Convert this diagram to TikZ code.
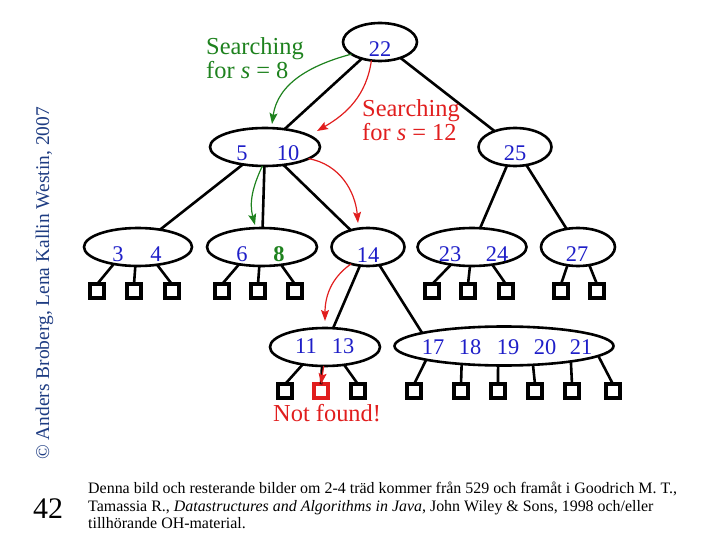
\documentclass[tikz,border=0pt]{standalone}
\usepackage{fontspec}
\setmainfont{Liberation Serif}
\usetikzlibrary{shapes.geometric,arrows.meta}
\definecolor{numblue}{RGB}{30,30,200}
\definecolor{sgreen}{RGB}{30,130,30}
\definecolor{sred}{RGB}{225,30,30}
\definecolor{cblue}{RGB}{30,60,130}
\begin{document}
\begin{tikzpicture}[x=1bp,y=1bp,
  ell/.style={ellipse,draw,line width=2.6bp,fill=white,inner sep=0pt,outer sep=0pt,minimum height=38bp},
  num/.style={text=numblue,font=\fontsize{22.5}{24}\selectfont,inner sep=0pt},
  leaf/.style={rectangle,draw,line width=3.6bp,fill=white,minimum size=13.5bp,inner sep=0pt,outer sep=0pt},
  edge/.style={line width=2.6bp},
  lbl/.style={font=\fontsize{24.5}{24}\selectfont,inner sep=0pt,align=left},
  garrow/.style={draw=sgreen,line width=1.2bp,-{Stealth[length=11bp,width=8bp,inset=2bp,fill=sgreen]}},
  rarrow/.style={draw=sred,line width=1.2bp,-{Stealth[length=11bp,width=8bp,inset=2bp,fill=sred]}}]
\useasboundingbox (0,0) rectangle (720,-540);
% ellipses
\node[ell,minimum width=74bp] (n22) at (380,-42) {};
\node[ell,minimum width=110bp] (n510) at (265,-147) {};
\node[ell,minimum width=73bp] (n25) at (515,-147) {};
\node[ell,minimum width=108bp] (n34) at (138,-247) {};
\node[ell,minimum width=110bp] (n68) at (262,-247) {};
\node[ell,minimum width=73bp] (n14) at (368,-247) {};
\node[ell,minimum width=109bp] (n2324) at (472,-247) {};
\node[ell,minimum width=74bp] (n27) at (578,-247) {};
\node[ell,minimum width=110bp] (n1113) at (325,-347) {};
\node[ell,minimum width=219bp,minimum height=39bp] (nbig) at (504,-346) {};
% numbers
\node[num] (t22) at (380,-49) {22};
\node[num] (t5) at (242,-153) {5};
\node[num] (t10) at (288,-153) {10};
\node[num] (t25) at (515,-153) {25};
\node[num] (t3) at (118,-254) {3};
\node[num] (t4) at (156,-254) {4};
\node[num] (t6) at (242,-254) {6};
\node[num,text=sgreen] (t8) at (279,-254) {\textbf{8}};
\node[num] (t14) at (368,-255) {14};
\node[num] (t23) at (450,-254) {23};
\node[num] (t24) at (497,-254) {24};
\node[num] (t27) at (577,-254) {27};
\node[num] (t11) at (306,-346) {11};
\node[num] (t13) at (343,-346) {13};
\node[num] (t17) at (433,-347) {17};
\node[num] (t18) at (470,-347) {18};
\node[num] (t19) at (508,-347) {19};
\node[num] (t20) at (545,-347) {20};
\node[num] (t21) at (581,-347) {21};
% leaves
\node[leaf] (a1) at (97,-291) {};
\node[leaf] (a2) at (134,-291) {};
\node[leaf] (a3) at (172,-291) {};
\node[leaf] (b1) at (222,-291) {};
\node[leaf] (b2) at (258,-291) {};
\node[leaf] (b3) at (295,-291) {};
\node[leaf] (c1) at (432,-291) {};
\node[leaf] (c2) at (468,-291) {};
\node[leaf] (c3) at (506,-291) {};
\node[leaf] (d1) at (561,-291) {};
\node[leaf] (d2) at (597,-291) {};
\node[leaf] (e1) at (285,-391) {};
\node[leaf,draw=sred] (e2) at (321,-391) {};
\node[leaf] (e3) at (358,-391) {};
\node[leaf] (f1) at (414,-391) {};
\node[leaf] (f2) at (461,-391) {};
\node[leaf] (f3) at (498,-391) {};
\node[leaf] (f4) at (535,-391) {};
\node[leaf] (f5) at (572,-391) {};
\node[leaf] (f6) at (613,-391) {};
% tree edges
\draw[edge] (n22) -- (n510);
\draw[edge] (n22) -- (n25);
\draw[edge] (n510) -- (n34);
\draw[edge] (n510) -- (n68);
\draw[edge] (n510) -- (n14);
\draw[edge] (n25) -- (n2324);
\draw[edge] (n25) -- (n27);
\draw[edge] (n14) -- (n1113);
\draw[edge] (n14) -- (nbig.171);
% leaf edges
\draw[edge] (a1.north) -- (n34.215);
\draw[edge] (a2.north) -- (n34.262);
\draw[edge] (a3.north) -- (n34.317);
\draw[edge] (b1.north) -- (n68.217);
\draw[edge] (b2.north) -- (n68.262);
\draw[edge] (b3.north) -- (n68.317);
\draw[edge] (c1.north) -- (n2324.220);
\draw[edge] (c2.north) -- (n2324.264);
\draw[edge] (c3.north) -- (n2324.319);
\draw[edge] (d1.north) -- (n27.240);
\draw[edge] (d2.north) -- (n27.302);
\draw[edge] (e1.north) -- (n1113.218);
\draw[edge] (e2.north) -- (n1113.261);
\draw[edge] (e3.north) -- (n1113.317);
\draw[edge] (f1.north) -- (nbig.190);
\draw[edge] (f2.north) -- (nbig.203);
\draw[edge] (f3.north) -- (nbig.253);
\draw[edge] (f4.north) -- (nbig.327);
\draw[edge] (f5.north) -- (nbig.347);
\draw[edge] (f6.north) -- (nbig.354);
% search arrows
\coordinate (g1tip) at (272,-124);
\coordinate (r1tip) at (317,-131);
\coordinate (g2tip) at (255,-225);
\coordinate (r2tip) at (358,-223);
\coordinate (r3tip) at (325,-321);
\draw[garrow] (n22.203) to[out=195,in=82] (g1tip);
\draw[rarrow] (n22.245) to[out=262,in=30] (r1tip);
\draw[garrow] (n510.262) to[out=245,in=105] (g2tip);
\draw[rarrow] (n510.345) to[out=350,in=95] (r2tip);
\draw[rarrow] (n14.225) to[out=215,in=90] (r3tip);
\draw[rarrow] (n1113.266) -- (e2.north);
% labels
\node[lbl,text=sgreen,anchor=north west] (lg) at (206,-37.5) {Searching\\for \textit{s} = 8};
\node[lbl,text=sred,anchor=north west] (lr) at (362,-99.5) {Searching\\for \textit{s} = 12};
\node[lbl,text=sred,anchor=base west] (nf) at (273,-421) {Not found!};
% page furniture
\node[font=\fontsize{19.5}{20}\selectfont,text=cblue,rotate=90,anchor=base west,inner sep=0pt] (copy) at (49,-460) {© Anders Broberg, Lena Kallin Westin, 2007};
\node[font=\fontsize{30}{30}\selectfont,anchor=base west,inner sep=0pt] (pg) at (33,-518) {42};
\node[font=\fontsize{16}{17.5}\selectfont,anchor=north west,align=left,inner sep=0pt] (ref) at (88,-482) {Denna bild och resterande bilder om 2-4 träd kommer från 529 och framåt i Goodrich M. T.,\\Tamassia R., \textit{Datastructures and Algorithms in Java}, John Wiley \& Sons, 1998 och/eller\\tillhörande OH-material.};
\end{tikzpicture}
\end{document}
